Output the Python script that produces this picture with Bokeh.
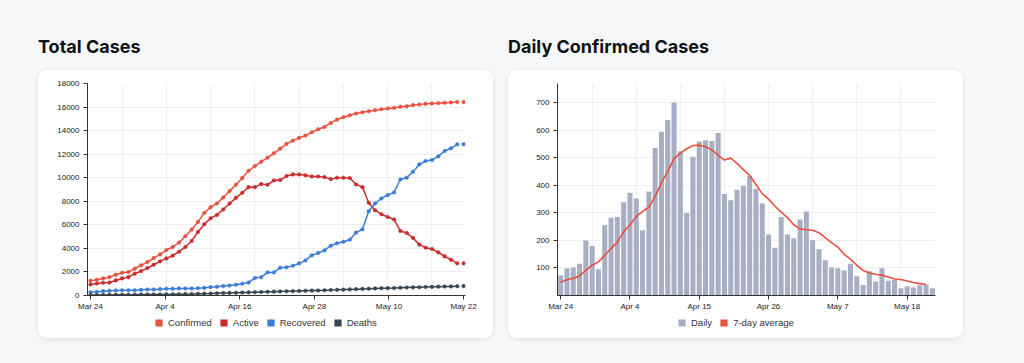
from bokeh.plotting import figure
from bokeh.models import (FixedTicker, Legend, LegendItem, Div, Spacer, Range1d,
                          CustomJSTickFormatter)
from bokeh.layouts import row, column
from bokeh.embed import file_html
from bokeh.resources import INLINE
from bokeh.core.properties import value
from jinja2 import Template

# ---------------- data ----------------
# one entry per day, Mar 24 ... May 22
days = list(range(60))

confirmed = [1250, 1335, 1450, 1560, 1760, 1930, 1990, 2270, 2560, 2840,
             3180, 3490, 3860, 4120, 4490, 5030, 5600, 6250, 7010, 7500,
             7810, 8320, 8860, 9400, 9970, 10590, 10990, 11360, 11700, 12070,
             12470, 12870, 13150, 13380, 13580, 13860, 14110, 14310, 14650, 14940,
             15140, 15310, 15450, 15560, 15650, 15730, 15820, 15880, 15930, 16020,
             16070, 16160, 16220, 16270, 16300, 16330, 16360, 16390, 16420, 16420]
active = [940, 1020, 1080, 1110, 1280, 1450, 1560, 1850, 2070, 2330,
          2610, 2900, 3150, 3380, 3720, 4120, 4630, 5400, 6050, 6560,
          6840, 7300, 7810, 8290, 8720, 9200, 9200, 9460, 9400, 9770,
          9800, 10140, 10280, 10280, 10200, 10110, 10110, 10050, 9880, 10000,
          10000, 9970, 9430, 9200, 7870, 7240, 6900, 6670, 6450, 5480,
          5310, 4890, 4320, 4060, 3950, 3660, 3320, 3040, 2730, 2730]
recovered = [280, 310, 370, 400, 430, 450, 450, 450, 480, 510,
             510, 540, 570, 570, 600, 600, 600, 620, 650, 710,
             740, 800, 850, 910, 1000, 1110, 1480, 1560, 1960, 1960,
             2360, 2390, 2530, 2730, 2980, 3410, 3610, 3830, 4230, 4430,
             4570, 4740, 5340, 5620, 7160, 7810, 8240, 8520, 8750, 9850,
             10000, 10510, 11130, 11420, 11500, 11810, 12270, 12500, 12840, 12840]
deaths = [35, 40, 45, 50, 55, 60, 65, 70, 75, 80,
          85, 90, 95, 100, 110, 115, 125, 140, 155, 170,
          190, 205, 220, 235, 250, 265, 280, 295, 310, 325,
          340, 355, 370, 385, 400, 415, 430, 445, 465, 480,
          500, 520, 540, 560, 580, 595, 610, 625, 640, 660,
          675, 690, 705, 720, 735, 750, 760, 770, 785, 800]

daily = [73, 98, 102, 115, 200, 180, 95, 256, 282, 285,
         339, 373, 352, 237, 378, 536, 595, 637, 701, 524,
         300, 504, 559, 564, 561, 590, 369, 346, 384, 398,
         435, 388, 334, 222, 173, 285, 222, 208, 276, 305,
         201, 168, 128, 102, 99, 91, 115, 70, 38, 88,
         51, 99, 54, 56, 26, 33, 29, 37, 41, 26]
avg7 = [48, 57, 63, 71, 91, 110, 122, 146, 171, 194,
        232, 256, 287, 305, 320, 360, 409, 451, 497, 517,
        533, 545, 546, 540, 529, 510, 492, 499, 480, 457,
        436, 403, 370, 350, 325, 303, 283, 257, 242, 239,
        237, 228, 210, 192, 176, 150, 132, 110, 91, 82,
        77, 74, 67, 60, 58, 53, 47, 43, 40]

total_series = ["Confirmed", "Active", "Recovered", "Deaths"]
total_tick_labels = ["Mar 24", "Apr 4", "Apr 16", "Apr 28", "May 10", "May 22"]
daily_tick_labels = ["Mar 24", "Apr 4", "Apr 15", "Apr 26", "May 7", "May 18"]
daily_tick_days = [0, 11, 22, 33, 44, 55]
week_grid_days = [5, 12, 19, 26, 33, 40, 47, 54]
total_y_ticks = [0, 2000, 4000, 6000, 8000, 10000, 12000, 14000, 16000, 18000]
daily_y_ticks = [100, 200, 300, 400, 500, 600, 700]
daily_legend = ["Daily", "7-day average"]

# ---------------- style ----------------
C_CONF = "#e8503f"
C_ACT = "#cc2b2b"
C_REC = "#3c7dd9"
C_DEA = "#384651"
C_BAR = "#a8aec3"
C_AVG = "#e8503f"
GRID = "#efefef"
AX = "#333333"
TICK_FONT = "Liberation Sans"

CARD_W = 455
PLOT_H = 245
LEG_H = 23
card_css = {"border-radius": "9px", "box-shadow": "0 1px 5px rgba(0,0,0,0.10)",
            "overflow": "hidden", "background": "#ffffff"}
title_css = {"font-family": "Inter, sans-serif", "font-size": "18px", "font-weight": "700",
             "color": "#101216", "line-height": "22px", "white-space": "nowrap"}


def base_fig(xr, yr):
    p = figure(width=CARD_W, height=PLOT_H, x_range=xr, y_range=yr,
               output_backend="svg", toolbar_location=None,
               min_border_left=49, min_border_right=28, min_border_top=13,
               min_border_bottom=20)
    p.background_fill_color = "white"
    p.border_fill_color = "white"
    p.outline_line_color = None
    for ax in (p.xaxis[0], p.yaxis[0]):
        ax.axis_line_color = AX
        ax.major_tick_line_color = AX
        ax.major_tick_out = 4
        ax.major_tick_in = 0
        ax.minor_tick_line_color = None
        ax.major_label_text_font = TICK_FONT
        ax.major_label_text_font_size = "8px"
        ax.major_label_text_color = "#222222"
    p.xaxis.major_label_standoff = 2
    p.yaxis.major_label_standoff = 4
    p.xgrid.grid_line_color = GRID
    p.ygrid.grid_line_color = GRID
    return p


def legend_fig(names, colors, x):
    # a strip under the chart that only carries the legend (frame aligned with the chart above)
    lf = figure(width=CARD_W, height=LEG_H, x_range=Range1d(0, 1), y_range=Range1d(0, 1),
                output_backend="svg", toolbar_location=None, min_border=0,
                x_axis_type=None, y_axis_type=None)
    lf.outline_line_color = None
    lf.background_fill_color = "white"
    lf.border_fill_color = "white"
    items = []
    for name, col in zip(names, colors):
        # swatch proxy, placed outside the visible range: only its legend glyph shows
        r = lf.quad(left=[-3], right=[-2], top=[-2], bottom=[-3],
                    fill_color=col, line_color=None)
        items.append(LegendItem(label=value(name), renderers=[r]))
    leg = Legend(items=items, location=(x, 10), orientation="horizontal",
                 glyph_width=9, glyph_height=9, label_standoff=5, spacing=7,
                 padding=0, margin=0, label_height=9, label_width=0,
                 label_text_font=TICK_FONT, label_text_font_size="9.5px",
                 label_text_color="#333333", background_fill_alpha=0,
                 border_line_color=None)
    lf.add_layout(leg)
    return lf


# ---------------- Total Cases ----------------
p1 = base_fig(Range1d(-0.47, 59.3), Range1d(0, 18000))
n = len(days)
tick_pos = [i * (n - 1) / (len(total_tick_labels) - 1) for i in range(len(total_tick_labels))]
p1.xaxis.ticker = FixedTicker(ticks=tick_pos)
p1.xaxis.formatter = CustomJSTickFormatter(args=dict(labels=total_tick_labels),
                                           code="return labels[index] || ''")
p1.xgrid.ticker = FixedTicker(ticks=week_grid_days)
p1.yaxis.ticker = FixedTicker(ticks=total_y_ticks)

series = [confirmed, active, recovered, deaths]
colors = [C_CONF, C_ACT, C_REC, C_DEA]
for ys, col in zip(series, colors):
    p1.line(days[:-1], ys[:-1], line_color=col, line_width=1.5)
    p1.scatter(days, ys, size=3.6, fill_color=col, line_color=col, line_width=0.5)
l1 = legend_fig(total_series, colors, 67)

# ---------------- Daily Confirmed Cases ----------------
p2 = base_fig(Range1d(0, len(daily)), Range1d(0, 770))
centers = [d + 0.5 for d in days]
p2.xaxis.ticker = FixedTicker(ticks=[d + 0.5 for d in daily_tick_days])
p2.xaxis.formatter = CustomJSTickFormatter(args=dict(labels=daily_tick_labels),
                                           code="return labels[index] || ''")
p2.xgrid.ticker = FixedTicker(ticks=[d + 0.5 for d in week_grid_days])
p2.yaxis.ticker = FixedTicker(ticks=daily_y_ticks)
p2.vbar(x=centers, top=daily, width=0.8, fill_color=C_BAR, line_color=None)
p2.line(centers[:len(avg7)], avg7, line_color=C_AVG, line_width=1.6)
l2 = legend_fig(daily_legend, [C_BAR, C_AVG], 120)

# ---------------- page ----------------
t1 = Div(text="Total Cases", width=CARD_W, height=34, styles=title_css, margin=(0, 0, 0, 0))
t2 = Div(text="Daily Confirmed Cases", width=CARD_W, height=34, styles=title_css, margin=(0, 0, 0, 0))
card1 = column(p1, l1, styles=card_css)
card2 = column(p2, l2, styles=card_css)
col1 = column(Spacer(height=36), t1, card1)
col2 = column(Spacer(height=36), t2, card2)
page = row(Spacer(width=38), col1, Spacer(width=15), col2)

tmpl = Template("""{% extends base %}
{% block preamble %}<style>html, body { background: #f6f7f9; }</style>{% endblock %}""")
open("out.html", "w").write(file_html(page, INLINE, template=tmpl))
